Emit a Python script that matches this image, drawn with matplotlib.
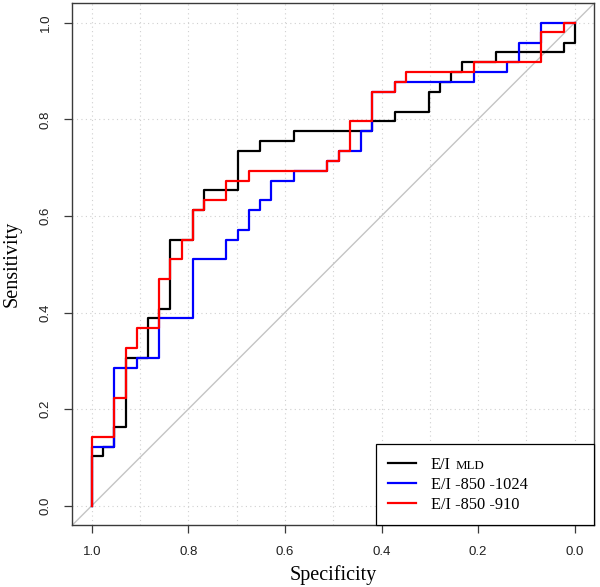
import matplotlib
matplotlib.use('Agg')
import matplotlib.pyplot as plt
from matplotlib.transforms import IdentityTransform
import numpy as np

# ROC step curves (specificity, sensitivity) at the corner points
spec_mld = [1.000, 0.977, 0.953, 0.930, 0.884, 0.860, 0.837, 0.791, 0.767, 0.698, 0.651,
            0.581, 0.419, 0.372, 0.302, 0.279, 0.256, 0.233, 0.163, 0.023, 0.000, 0.000]
sens_mld = [0.000, 0.102, 0.122, 0.163, 0.306, 0.388, 0.408, 0.551, 0.612, 0.653, 0.735,
            0.755, 0.776, 0.796, 0.816, 0.857, 0.878, 0.898, 0.918, 0.939, 0.959, 1.000]

spec_1024 = [1.000, 0.953, 0.907, 0.860, 0.791, 0.721, 0.698, 0.674, 0.651, 0.628, 0.581,
             0.512, 0.488, 0.442, 0.419, 0.372, 0.209, 0.140, 0.116, 0.070, 0.000]
sens_1024 = [0.000, 0.122, 0.286, 0.306, 0.388, 0.510, 0.551, 0.571, 0.612, 0.633, 0.673,
             0.694, 0.714, 0.735, 0.776, 0.857, 0.878, 0.898, 0.918, 0.959, 1.000]

spec_910 = [1.000, 0.953, 0.930, 0.907, 0.860, 0.837, 0.814, 0.791, 0.767, 0.721, 0.674,
            0.512, 0.488, 0.465, 0.419, 0.372, 0.349, 0.209, 0.070, 0.023, 0.000]
sens_910 = [0.000, 0.143, 0.224, 0.327, 0.367, 0.469, 0.510, 0.551, 0.612, 0.633, 0.673,
            0.694, 0.714, 0.735, 0.796, 0.857, 0.878, 0.898, 0.918, 0.980, 1.000]

series_labels = ['E/I', 'E/I -850 -1024', 'E/I -850 -910']
series_colors = ['#000000', '#0000ff', '#ff0000']

tick_vals = [1.0, 0.8, 0.6, 0.4, 0.2, 0.0]
tick_labels = ['1.0', '0.8', '0.6', '0.4', '0.2', '0.0']

fig = plt.figure(figsize=(6.0, 5.87), dpi=100)
ax = fig.add_axes([0.1207, 0.1056, 0.8693, 0.8886])

ax.set_xlim(1.04, -0.04)
ax.set_ylim(-0.04, 1.04)

# grid
for v in np.arange(0, 1.01, 0.1):
    ax.axvline(v, color='#d0d0d0', lw=0.8, ls=(0, (1, 3)), zorder=0)
for v in np.arange(0, 1.01, 0.2):
    ax.axhline(v, color='#d0d0d0', lw=0.8, ls=(0, (1, 3)), zorder=0)

# identity line
ax.axline((1, 0), (0, 1), color='#c4c4c4', lw=1.0, zorder=1)

lines = []
for sp, se, c, lab in [(spec_mld, sens_mld, series_colors[0], series_labels[0]),
                       (spec_1024, sens_1024, series_colors[1], series_labels[1]),
                       (spec_910, sens_910, series_colors[2], series_labels[2])]:
    ln, = ax.plot(sp, se, drawstyle='steps-pre', color=c, lw=1.6, label=lab, zorder=2)
    lines.append(ln)

ax.set_xticks(tick_vals)
ax.set_xticklabels(tick_labels, fontfamily='Liberation Sans', fontsize=9.5)
ax.set_yticks(tick_vals)
ax.set_yticklabels(tick_labels, fontfamily='Liberation Sans', fontsize=9.5,
                   rotation=90, va='center')
ax.tick_params(axis='both', direction='out', length=5.8, width=0.9, color='#3a3a3a',
               labelcolor='#202020')
ax.tick_params(axis='x', pad=9)
ax.tick_params(axis='y', pad=9)

for s in ax.spines.values():
    s.set_color('#3a3a3a')
    s.set_linewidth(1.0)

ax.set_xlabel('Specificity', fontfamily='Liberation Serif', fontsize=14.5)
ax.set_ylabel('Sensitivity', fontfamily='Liberation Serif', fontsize=14.5)
ax.xaxis.label.set_va('center')
ax.yaxis.label.set_va('center')
ax.xaxis.set_label_coords(0.5, -0.096)
ax.yaxis.set_label_coords(-0.116, 0.5)

leg = ax.legend(handles=lines, loc='lower left', bbox_to_anchor=(0.582, 0.0, 0.418, 0.2),
                mode='expand', borderaxespad=0, fancybox=False, framealpha=1,
                edgecolor='#000000', prop={'family': 'Liberation Serif', 'size': 11.8},
                handlelength=1.7, handletextpad=0.9, borderpad=0.75, labelspacing=0.25)
leg.get_frame().set_linewidth(0.9)
leg.set_zorder(5)

fig.canvas.draw()
t0 = leg.get_texts()[0]
bb = t0.get_window_extent()
bx, by = t0.get_transform().transform(t0.get_position())
fig.text(bb.x1 + 5, by, 'MLD', transform=IdentityTransform(),
         fontfamily='Liberation Serif', fontsize=9.3, va='baseline', ha='left', zorder=6)

fig.savefig('out.png', dpi=100)
